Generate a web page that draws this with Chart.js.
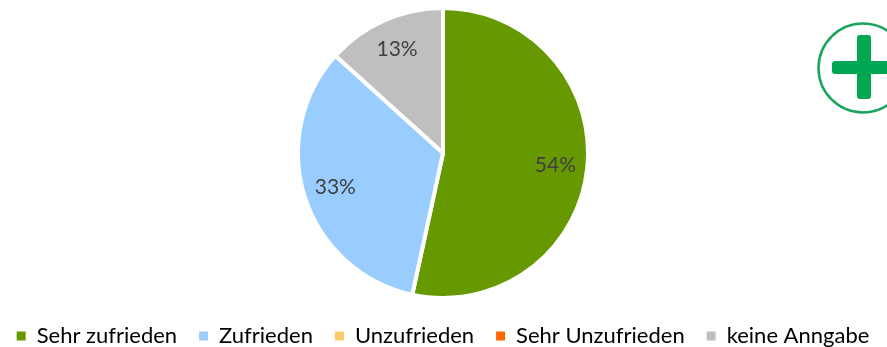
<!DOCTYPE html>
<html>
<head>
<meta charset="utf-8">
<style>
html, body { margin: 0; padding: 0; background: #fff; overflow: hidden; }
#page { position: relative; width: 887px; height: 347px; overflow: hidden; }
/* wider than the page so the legend stays on one row; centre stays at x=443 */
#wrap { position: absolute; left: -22px; top: 0; width: 930px; height: 347px; }
#badge { position: absolute; left: 0; top: 0; }
</style>
<script src="https://cdn.jsdelivr.net/npm/chart.js@4/dist/chart.umd.min.js"></script>
</head>
<body>
<div id="page">
	<div id="wrap"><canvas id="pieChart"></canvas></div>
	<!-- Green plus badge at the top right, cut off by the page edge -->
	<svg id="badge" width="887" height="347">
		<circle cx="863" cy="68" r="44.5" fill="none" stroke="#1BA45C" stroke-width="2.5"/>
		<rect x="857" y="35" width="14" height="64" rx="3" fill="#00A651"/>
		<rect x="832" y="61" width="70" height="13" rx="3" fill="#00A651"/>
	</svg>
</div>
<script>
const categories = ['Sehr zufrieden', 'Zufrieden', 'Unzufrieden', 'Sehr Unzufrieden', 'keine Anngabe'];
const values = [53.4, 33.3, 0, 0, 13.3];
const sliceLabels = ['54%', '33%', '', '', '13%'];
const colors = ['#669900', '#99CCFF', '#FFCC66', '#FF6600', '#BFBFBF'];

// Percent labels inside the slices
const sliceLabelPlugin = {
	id: 'sliceLabels',
	afterDatasetsDraw(chart) {
		const ctx = chart.ctx;
		ctx.save();
		ctx.font = '21px Lato';
		ctx.fillStyle = '#404040';
		ctx.textAlign = 'center';
		ctx.textBaseline = 'middle';
		chart.getDatasetMeta(0).data.forEach(function(arc, i) {
			if (!sliceLabels[i]) return;
			const p = arc.getProps(['x', 'y', 'startAngle', 'endAngle', 'outerRadius'], true);
			const mid = (p.startAngle + p.endAngle) / 2;
			const r = p.outerRadius * 0.78;
			ctx.fillText(sliceLabels[i], p.x + Math.cos(mid) * r, p.y + Math.sin(mid) * r);
		});
		ctx.restore();
	}
};

new Chart(document.getElementById('pieChart').getContext('2d'), {
	type: 'pie',
	data: {
		labels: categories,
		datasets: [{
			data: values,
			backgroundColor: colors,
			borderColor: '#fff',
			borderWidth: 4,
			radius: 145
		}]
	},
	options: {
		responsive: true,
		maintainAspectRatio: false,
		animation: false,
		layout: {
			padding: { top: 3, bottom: -10 }
		},
		plugins: {
			tooltip: { enabled: false },
			legend: {
				position: 'bottom',
				labels: {
					boxWidth: 9,
					boxHeight: 9,
					padding: 22,
					color: '#595959',
					font: { family: 'Lato', size: 22 },
					generateLabels: function(chart) {
						return categories.map(function(name, i) {
							return { text: name, fillStyle: colors[i], strokeStyle: colors[i], lineWidth: 0, index: i };
						});
					}
				}
			}
		}
	},
	plugins: [sliceLabelPlugin]
});
</script>
</body>
</html>
